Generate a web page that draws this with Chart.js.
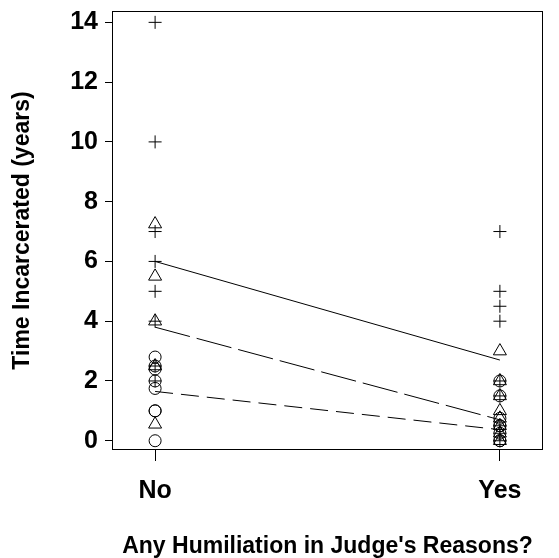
<!DOCTYPE html>
<html>
<head>
<meta charset="utf-8">
<script src="https://cdn.jsdelivr.net/npm/chart.js@4/dist/chart.umd.min.js"></script>
<style>
  body { margin: 0; background: #fff; }
</style>
</head>
<body>
<canvas id="chart" width="559" height="558"></canvas>
<script>
const categories = ['No', 'Yes'];
const yTicks = [0, 2, 4, 6, 8, 10, 12, 14];

// plus markers
const plusNo = [14, 10, 7, 6, 5, 4, 2.5, 2];
const plusYes = [7, 5, 4.5, 4, 2, 1.5, 0.5, 0.25, 0];
// triangle markers
const triNo = [7.25, 5.5, 4, 2.5, 0.55];
const triYes = [3, 2, 1.5, 1, 0.75, 0.5, 0.25, 0];
// circle markers
const circNo = [2.8, 2.5, 2.4, 2, 1.75, 1, 1, 0];
const circYes = [2, 1.5, 0.75, 0.5, 0.5, 0.25, 0, 0];

// fitted lines (No -> Yes)
const solidLine = [6.0, 2.7];
const longDashLine = [3.8, 0.7];
const shortDashLine = [1.65, 0.37];

const FONT = 'Liberation Sans, Arial, sans-serif';

function pts(no, yes) {
    return no.map(v => ({ x: 0, y: v })).concat(yes.map(v => ({ x: 1, y: v })));
}

function lineSet(values, dash) {
    return {
        type: 'line',
        data: values.map((v, i) => ({ x: i, y: v })),
        borderColor: '#000',
        borderWidth: 1,
        borderDash: dash,
        pointRadius: 0,
        fill: false
    };
}

function markerSet(data, style, radius) {
    return {
        type: 'scatter',
        data: data,
        pointStyle: style,
        pointRadius: radius,
        pointBorderColor: '#000',
        pointBackgroundColor: 'rgba(0,0,0,0)',
        pointBorderWidth: 1
    };
}

// full frame round the plot area
const frame = {
    id: 'frame',
    beforeDatasetsDraw(chart) {
        const { ctx, chartArea: a } = chart;
        ctx.save();
        ctx.strokeStyle = '#000';
        ctx.lineWidth = 1;
        ctx.strokeRect(a.left + 0.5, a.top + 0.5, a.right - a.left - 1, a.bottom - a.top - 1);
        ctx.restore();
    }
};

new Chart(document.getElementById('chart').getContext('2d'), {
    data: {
        datasets: [
            lineSet(solidLine, []),
            lineSet(longDashLine, [36, 7]),
            lineSet(shortDashLine, [18, 8]),
            markerSet(pts(plusNo, plusYes), 'cross', 6.5),
            markerSet(pts(triNo, triYes), 'triangle', 7.5),
            markerSet(pts(circNo, circYes), 'circle', 6)
        ]
    },
    options: {
        responsive: false,
        animation: false,
        layout: { padding: { top: 11, right: 16, left: 0, bottom: 0 } },
        plugins: { legend: { display: false }, tooltip: { enabled: false } },
        scales: {
            x: {
                type: 'linear',
                min: -0.125,
                max: 1.125,
                afterBuildTicks: (scale) => { scale.ticks = categories.map((c, i) => ({ value: i })); },
                afterFit: (scale) => {
                    scale.height = 108;
                    scale.paddingLeft = 0;
                    scale.paddingRight = 0;
                },
                ticks: {
                    callback: (v) => categories[v],
                    color: '#000',
                    padding: 15,
                    maxRotation: 0,
                    font: { family: FONT, size: 25, weight: 'bold' }
                },
                grid: { drawOnChartArea: false, drawTicks: true, tickLength: 11, color: '#000' },
                border: { display: false },
                title: {
                    display: true,
                    text: "Any Humiliation in Judge's Reasons?",
                    color: '#000',
                    padding: { top: 0, bottom: 0 },
                    font: { family: FONT, size: 23, weight: 'bold', lineHeight: 1 }
                }
            },
            y: {
                min: -0.31,
                max: 14.38,
                afterBuildTicks: (scale) => { scale.ticks = yTicks.map(v => ({ value: v })); },
                afterFit: (scale) => {
                    scale.width = 112;
                    scale.paddingTop = 0;
                    scale.paddingBottom = 0;
                },
                ticks: {
                    color: '#000',
                    padding: 7,
                    font: { family: FONT, size: 25, weight: 'bold' }
                },
                grid: { drawOnChartArea: false, drawTicks: true, tickLength: 7, color: '#000' },
                border: { display: false },
                title: {
                    display: true,
                    text: 'Time Incarcerated (years)',
                    color: '#000',
                    padding: { top: 11, bottom: 0 },
                    font: { family: FONT, size: 23, weight: 'bold', lineHeight: 1 }
                }
            }
        }
    },
    plugins: [frame]
});
</script>
</body>
</html>
